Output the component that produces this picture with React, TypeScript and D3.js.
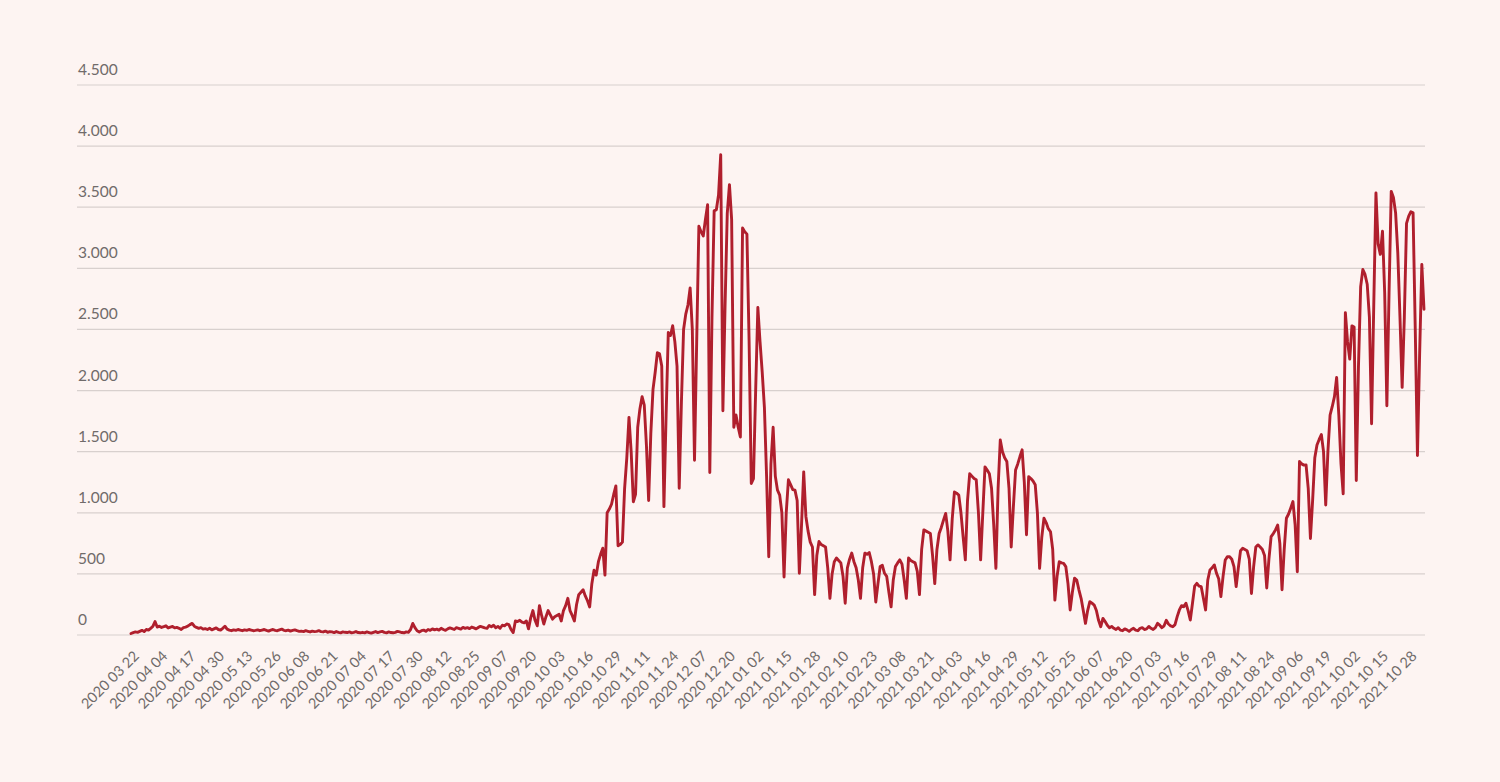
import React from "react";
import * as d3 from "d3";

const startDate = "2020-03-22";

const dailyCases: number[] = [
  12, 20, 25, 22, 30, 38, 28, 45, 40, 55,
  70, 110, 65, 72, 62, 68, 75, 58, 65, 70,
  58, 62, 55, 45, 60, 65, 72, 85, 95, 72,
  62, 55, 60, 48, 52, 45, 55, 42, 50, 58,
  45, 40, 55, 72, 48, 40, 35, 42, 38, 45,
  40, 35, 42, 38, 45, 40, 35, 38, 42, 35,
  40, 45, 38, 32, 40, 45, 38, 35, 42, 48,
  38, 35, 40, 32, 38, 42, 35, 30, 32, 28,
  35, 30, 25, 32, 28, 30, 35, 28, 25, 32,
  22, 28, 25, 20, 28, 22, 18, 25, 22, 20,
  25, 18, 22, 28, 20, 18, 22, 18, 25, 20,
  15, 22, 28, 20, 25, 30, 22, 18, 25, 20,
  18, 22, 30, 25, 20, 18, 25, 22, 45, 95,
  60, 35, 25, 35, 40, 30, 45, 38, 50, 42,
  48, 40, 55, 45, 38, 50, 58, 52, 45, 60,
  55, 48, 62, 55, 60, 52, 65, 58, 50, 62,
  70, 65, 58, 55, 78, 68, 80, 60, 70, 55,
  80, 75, 90, 85, 45, 20, 115, 110, 120, 105,
  100, 115, 50, 140, 200, 120, 75, 240, 160, 90,
  150, 200, 165, 130, 150, 160, 170, 115, 200, 240,
  300, 200, 160, 115, 250, 330, 350, 370, 320, 280,
  230, 420, 530, 490, 600, 660, 710, 490, 1000, 1030,
  1070, 1150, 1220, 730, 740, 760, 1200, 1450, 1780, 1500,
  1090, 1150, 1700, 1850, 1950, 1880, 1550, 1100, 1650, 2010,
  2150, 2310, 2300, 2200, 1050, 1800, 2475, 2450, 2530, 2400,
  2200, 1200, 1900, 2500, 2625, 2700, 2840, 2500, 1430, 2400,
  3345, 3300, 3265, 3400, 3520, 1330, 2600, 3470, 3480, 3600,
  3930, 1835, 2700, 3450, 3685, 3400, 1700, 1800, 1700, 1620,
  3330, 3300, 3280, 2400, 1240, 1280, 2000, 2680, 2400, 2150,
  1865, 1300, 640, 1400, 1700, 1300, 1185, 1145, 1000, 475,
  1000, 1270, 1230, 1190, 1185, 1100, 505, 900, 1335, 970,
  850, 760, 720, 330, 650, 765, 740, 730, 720, 550,
  300, 500, 600, 630, 610, 590, 480, 260, 550, 620,
  670, 600, 550, 450, 300, 550, 670, 660, 675, 600,
  500, 270, 420, 560, 570, 505, 480, 350, 230, 450,
  560, 590, 615, 580, 450, 300, 630, 610, 600, 590,
  520, 330, 700, 860, 850, 840, 830, 650, 420, 700,
  830, 880, 940, 995, 850, 615, 950, 1170, 1160, 1145,
  1000, 800, 615, 1100, 1320, 1300, 1280, 1270, 1000, 615,
  1000, 1375, 1350, 1320, 1200, 900, 545, 1200, 1595, 1500,
  1450, 1420, 1200, 720, 1050, 1350, 1400, 1460, 1515, 1250,
  820, 1295, 1280, 1260, 1230, 1000, 545, 800, 955, 920,
  870, 845, 700, 285, 480, 600, 590, 586, 560, 420,
  205, 350, 465, 450, 370, 300, 200, 95, 200, 273,
  260, 245, 200, 120, 68, 136, 110, 80, 60, 70,
  55, 45, 60, 40, 35, 50, 42, 30, 45, 55,
  40, 35, 55, 60, 45, 50, 70, 55, 45, 60,
  95, 80, 60, 75, 120, 90, 75, 68, 85, 150,
  205, 240, 232, 260, 200, 123, 260, 400, 423, 400,
  395, 300, 205, 450, 532, 550, 573, 505, 460, 314,
  480, 614, 641, 640, 620, 560, 396, 550, 690, 710,
  700, 690, 620, 340, 560, 720, 737, 720, 700, 650,
  385, 620, 805, 830, 860, 900, 750, 370, 700, 955,
  990, 1040, 1092, 900, 518, 1420, 1400, 1390, 1392, 1200,
  790, 1100, 1450, 1555, 1600, 1640, 1500, 1064, 1500, 1800,
  1870, 1950, 2107, 1800, 1400, 1155, 2638, 2400, 2257, 2529,
  2520, 1264, 2200, 2850, 2990, 2950, 2870, 2600, 1728, 2700,
  3617, 3200, 3114, 3304, 2800, 1876, 2800, 3630, 3580, 3454,
  3127, 2600, 2026, 2600, 3368, 3427, 3463, 3454, 2500, 1468,
  2300, 3032, 2665,
];

const yTicks = [0, 500, 1000, 1500, 2000, 2500, 3000, 3500, 4000, 4500];
const yTickLabels = ["0", "500", "1.000", "1.500", "2.000", "2.500", "3.000", "3.500", "4.000", "4.500"];

const xTickEveryDays = 13;
const xTickLabels = [
  "2020 03 22", "2020 04 04", "2020 04 17", "2020 04 30", "2020 05 13", "2020 05 26",
  "2020 06 08", "2020 06 21", "2020 07 04", "2020 07 17", "2020 07 30", "2020 08 12",
  "2020 08 25", "2020 09 07", "2020 09 20", "2020 10 03", "2020 10 16", "2020 10 29",
  "2020 11 11", "2020 11 24", "2020 12 07", "2020 12 20", "2021 01 02", "2021 01 15",
  "2021 01 28", "2021 02 10", "2021 02 23", "2021 03 08", "2021 03 21", "2021 04 03",
  "2021 04 16", "2021 04 29", "2021 05 12", "2021 05 25", "2021 06 07", "2021 06 20",
  "2021 07 03", "2021 07 16", "2021 07 29", "2021 08 11", "2021 08 24", "2021 09 06",
  "2021 09 19", "2021 10 02", "2021 10 15", "2021 10 28",
];

export default function App() {
  const W = 1500;
  const H = 782;
  const start = d3.timeParse("%Y-%m-%d")(startDate) as Date;
  const dates = dailyCases.map((_, i) => d3.timeDay.offset(start, i));

  const x = d3
    .scaleTime()
    .domain([dates[0], dates[dates.length - 1]])
    .range([131, 1424]);
  const y = d3.scaleLinear().domain([0, 4500]).range([635, 85]);

  const line = d3
    .line<number>()
    .x((_, i) => x(dates[i]))
    .y((d) => y(d));

  const font = "Lato, 'Open Sans', sans-serif";

  return (
    <svg
      width={W}
      height={H}
      style={{ position: "absolute", left: 0, top: 0, display: "block" }}
    >
      <rect x={0} y={0} width={W} height={H} fill="#fdf4f2" />
      {yTicks.map((t, k) => (
        <g key={t}>
          <line x1={77} x2={1425} y1={y(t)} y2={y(t)} stroke="#d8d0ce" strokeWidth={1.2} />
          <text x={78} y={y(t) - 10} fontFamily={font} fontSize={15.5} fill="#706b6a">
            {yTickLabels[k]}
          </text>
        </g>
      ))}
      {xTickLabels.map((lab, k) => {
        const tx = x(d3.timeDay.offset(start, k * xTickEveryDays)) + 9;
        const ty = 657;
        return (
          <text
            key={lab}
            x={tx}
            y={ty}
            textAnchor="end"
            fontFamily={font}
            fontSize={14.5}
            fill="#706b6a"
            transform={`rotate(-45 ${tx} ${ty})`}
          >
            {lab}
          </text>
        );
      })}
      <path
        d={line(dailyCases) || ""}
        fill="none"
        stroke="#b01f2d"
        strokeWidth={2.9}
        strokeLinejoin="round"
        strokeLinecap="round"
      />
    </svg>
  );
}
